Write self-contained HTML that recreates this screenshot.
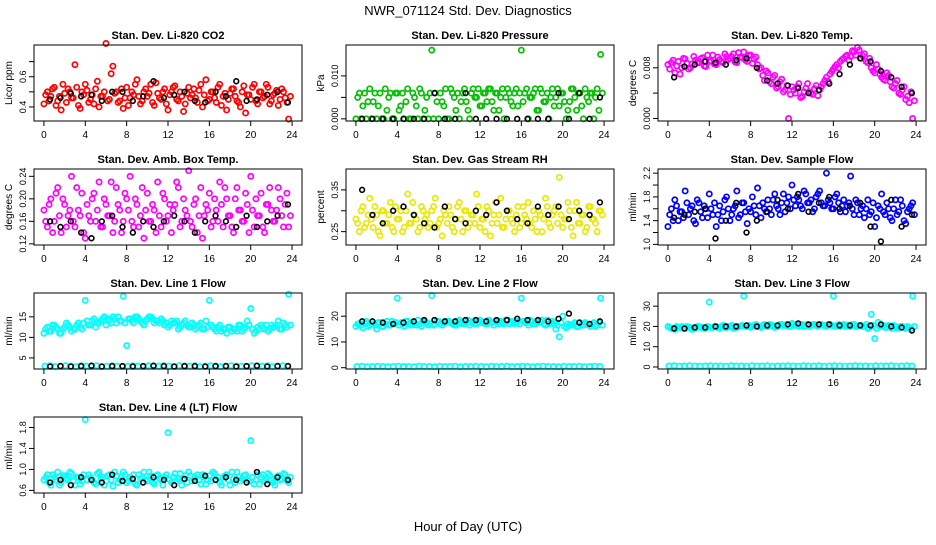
<!DOCTYPE html>
<html><head><meta charset="utf-8"><style>
html,body{margin:0;padding:0;background:#fff}
svg text{font-family:"Liberation Sans",Arial,sans-serif}
</style></head><body>
<svg id="chart" width="936" height="540" viewBox="0 0 936 540" xmlns="http://www.w3.org/2000/svg">
<text x="468" y="15" text-anchor="middle" font-size="13">NWR_071124  Std. Dev. Diagnostics</text>
<text x="468" y="531" text-anchor="middle" font-size="13">Hour of Day (UTC)</text>
</svg>
<script>
const co2Color=[0.42,0.5,0.47,0.53,0.44,0.38,0.49,0.52,0.46,0.68,0.41,0.5,0.55,0.43,0.48,0.52,0.40,0.47,0.82,0.45,0.67,0.5,0.44,0.39,0.53,0.46,0.48,0.58,0.42,0.5,0.47,0.55,0.41,0.49,0.45,0.52,0.38,0.5,0.54,0.44,0.47,0.42,0.53,0.48,0.46,0.51,0.40,0.58,0.45,0.5,0.43,0.55,0.47,0.38,0.49,0.52,0.44,0.40,0.54,0.48,0.45,0.55,0.42,0.5,0.47,0.53,0.44,0.49,0.41,0.52,0.46,0.32];
const co2ColorB=[0.48,0.44,0.52,0.41,0.47,0.55,0.43,0.5,0.46,0.53,0.39,0.48,0.51,0.45,0.42,0.57,0.47,0.5,0.44,0.62,0.49,0.43,0.52,0.46,0.41,0.5,0.55,0.47,0.44,0.52,0.49,0.43,0.56,0.46,0.5,0.42,0.48,0.53,0.45,0.5,0.37,0.49,0.46,0.52,0.43,0.55,0.48,0.44,0.5,0.46,0.53,0.41,0.49,0.45,0.52,0.47,0.43,0.5,0.36,0.48,0.53,0.44,0.5,0.46,0.55,0.42,0.48,0.51,0.45,0.5,0.43,0.47];
const co2Black=[0.45,0.46,0.49,0.47,0.48,0.44,0.5,0.5,0.44,0.47,0.57,0.46,0.48,0.5,0.44,0.43,0.5,0.47,0.57,0.44,0.45,0.48,0.5,0.43];
const presColor=[0,0.006,0.003,0,0.007,0.004,0,0.006,0,0.002,0.006,0,0.006,0.003,0,0.007,0,0.005,0,0.006,0.002,0,0.016,0.006,0,0.004,0.007,0,0.006,0.002,0,0.006,0.004,0,0.007,0.005,0.003,0.006,0.004,0.007,0.002,0.006,0.005,0,0.007,0.004,0.006,0.003,0.016,0.006,0,0.005,0.007,0.002,0.006,0.004,0,0.007,0.005,0.003,0.006,0,0.004,0.007,0.002,0.006,0,0.005,0.006,0,0.007,0.015];
const presColorB=[0.005,0,0.006,0.004,0,0.006,0.003,0,0.007,0.005,0,0.006,0.002,0.006,0.004,0,0.006,0.003,0.007,0,0.005,0.006,0,0.004,0.006,0.003,0,0.007,0.005,0.006,0.004,0.007,0.002,0.006,0.005,0.007,0.003,0.006,0.007,0.004,0.006,0.002,0.007,0.005,0.006,0.003,0.007,0.006,0.004,0.007,0.005,0.006,0.002,0.007,0.004,0.006,0.005,0.003,0.007,0.006,0.004,0.002,0.007,0.005,0.006,0.003,0.007,0.004,0.006,0.005,0.002,0.006];
const presBlack=[0,0,0,0,0,0,0,0.006,0,0,0.006,0,0,0,0,0,0,0,0,0.006,0,0.006,0,0.005];
const tempColor=[0.0085,0.0088,0.0072,0.0090,0.0080,0.0094,0.0078,0.0086,0.0092,0.0088,0.0096,0.0082,0.0090,0.0100,0.0085,0.0093,0.0088,0.0098,0.0095,0.0102,0.0088,0.0097,0.0105,0.0090,0.0100,0.0094,0.0085,0.0080,0.0060,0.0072,0.0055,0.0068,0.0050,0.0062,0.0045,0.0000,0.0050,0.0040,0.0055,0.0035,0.0048,0.0042,0.0038,0.0052,0.0045,0.0055,0.0065,0.0070,0.0078,0.0085,0.0090,0.0095,0.0100,0.0098,0.0105,0.0112,0.0095,0.0102,0.0088,0.0080,0.0072,0.0078,0.0065,0.0060,0.0068,0.0050,0.0055,0.0040,0.0045,0.0030,0.0025,0.0000];
const tempColorB=[0.0078,0.0092,0.0083,0.0070,0.0095,0.0087,0.0080,0.0098,0.0089,0.0094,0.0083,0.0100,0.0091,0.0086,0.0097,0.0090,0.0102,0.0093,0.0098,0.0089,0.0104,0.0096,0.0092,0.0100,0.0087,0.0097,0.0078,0.0068,0.0075,0.0058,0.0065,0.0048,0.0058,0.0042,0.0052,0.0038,0.0045,0.0050,0.0033,0.0042,0.0055,0.0040,0.0047,0.0036,0.0050,0.0060,0.0058,0.0074,0.0082,0.0080,0.0093,0.0098,0.0092,0.0107,0.0100,0.0108,0.0099,0.0090,0.0095,0.0075,0.0085,0.0070,0.0062,0.0072,0.0058,0.0048,0.0060,0.0038,0.0050,0.0035,0.0042,0.0028];
const tempBlack=[0.0065,0.0082,0.0085,0.0090,0.0088,0.0085,0.0092,0.0095,0.0080,0.0060,0.0055,0.0052,0.0048,0.0040,0.0045,0.0055,0.0070,0.0085,0.0095,0.0090,0.0075,0.0065,0.0050,0.0040];
const ambColor=[.18,.15,.20,.16,.22,.14,.19,.17,.24,.15,.18,.21,.13,.17,.20,.16,.23,.15,.19,.17,.14,.22,.18,.16,.20,.24,.15,.19,.17,.13,.21,.16,.18,.23,.15,.20,.17,.14,.19,.22,.16,.18,.25,.15,.20,.17,.13,.19,.21,.16,.18,.23,.15,.20,.17,.14,.22,.18,.16,.19,.24,.15,.17,.21,.14,.19,.18,.16,.22,.17,.19,.15];
const ambColorB=[.16,.19,.14,.21,.17,.20,.15,.18,.16,.22,.17,.14,.19,.16,.21,.18,.15,.20,.17,.23,.16,.19,.14,.21,.18,.16,.20,.15,.22,.18,.16,.19,.14,.17,.21,.16,.19,.18,.23,.15,.20,.17,.16,.19,.14,.22,.17,.18,.15,.20,.16,.19,.22,.17,.15,.20,.18,.16,.21,.14,.18,.20,.17,.15,.19,.22,.16,.18,.20,.15,.21,.17];
const ambBlack=[.16,.15,.16,.14,.13,.16,.17,.15,.14,.16,.15,.16,.17,.16,.14,.16,.17,.16,.15,.17,.15,.16,.17,.19];
const rhColor=[.28,.25,.31,.27,.33,.26,.29,.24,.30,.27,.32,.25,.28,.30,.26,.34,.27,.29,.25,.31,.28,.26,.30,.33,.27,.24,.29,.31,.26,.28,.32,.25,.30,.27,.29,.34,.26,.28,.31,.24,.29,.27,.33,.26,.30,.28,.25,.31,.27,.29,.32,.26,.28,.30,.25,.33,.27,.29,.31,.38,.26,.28,.30,.24,.32,.27,.29,.26,.31,.28,.25,.30];
const rhColorB=[.27,.30,.26,.29,.28,.31,.25,.30,.27,.29,.26,.31,.28,.25,.30,.27,.32,.28,.26,.30,.29,.27,.31,.26,.28,.30,.27,.29,.25,.31,.28,.30,.26,.29,.27,.31,.28,.25,.30,.27,.32,.29,.26,.28,.30,.27,.29,.26,.31,.28,.27,.30,.25,.29,.28,.31,.26,.30,.27,.29,.28,.32,.26,.30,.27,.29,.25,.31,.28,.27,.30,.29];
const rhBlack=[.35,.29,.27,.30,.31,.29,.27,.26,.31,.28,.27,.30,.29,.32,.30,.28,.27,.31,.29,.31,.28,.30,.29,.32];
const flowColor=[1.3,1.6,1.75,1.4,1.55,1.9,1.5,1.65,1.35,1.7,1.45,1.6,1.85,1.5,1.3,1.65,1.55,1.8,1.4,1.6,1.9,1.5,1.7,1.35,1.55,1.65,1.95,1.45,1.6,1.75,1.5,1.85,1.6,1.7,1.55,1.8,2.0,1.65,1.75,1.6,1.85,1.7,1.55,1.8,1.9,1.65,2.2,1.7,1.6,1.85,1.55,1.75,1.65,2.15,1.5,1.7,1.6,1.45,1.75,1.55,1.3,1.65,1.85,1.5,1.6,1.4,1.75,1.55,1.65,1.35,1.6,1.7];
const flowColorB=[1.5,1.4,1.65,1.55,1.45,1.7,1.6,1.4,1.75,1.55,1.65,1.45,1.6,1.7,1.5,1.4,1.75,1.6,1.5,1.65,1.45,1.7,1.55,1.6,1.8,1.5,1.65,1.7,1.55,1.6,1.75,1.65,1.5,1.85,1.7,1.6,1.75,1.8,1.65,1.9,1.7,1.75,1.6,1.85,1.7,1.65,1.75,1.6,1.8,1.7,1.65,1.55,1.7,1.6,1.75,1.5,1.65,1.6,1.5,1.7,1.45,1.6,1.55,1.7,1.45,1.6,1.5,1.75,1.4,1.55,1.65,1.5];
const flowBlack=[1.45,1.5,1.55,1.6,1.1,1.4,1.7,1.2,1.4,1.55,1.75,1.6,1.85,1.55,1.7,1.8,1.6,1.65,1.7,1.3,1.05,1.75,1.3,1.5];
const l1Color=[11,12.5,11.5,13,12,11,12.5,13,11.5,12,13.5,12,19,13,14,12.5,13.5,14.5,13,14,15,13.5,14,20,8,14.5,13.5,15,14,13,14.5,15,13.5,14,14.5,13,12.5,14,13.5,12,13,14,12.5,13.5,12,13,12,14,19,12.5,11.5,13,12,11,12.5,12,11.5,13,12,14,17,11,12.5,13,12,11.5,13,12.5,14,12,13,20.5];
const l1ColorB=[12,11.5,13,12.5,11,12,13.5,12.5,12,13,12.5,13.5,14,13,14.5,13.5,14,15,14.5,13.5,14.5,15,14,13.5,14.5,14,15,14.5,13.5,14,15,14.5,14,13.5,14,13.5,13,13.5,14,12.5,13.5,13,12.5,13,12.5,13.5,12,12.5,13,12,12.5,11.5,12,12.5,11.5,12,13,11.5,12.5,13,12,11.5,12,12.5,13,12,12.5,13,12,13.5,12.5,13];
const l1Low=[3.0,3.1,2.9,3.0,3.1,3.0,2.9,3.1,3.0,3.0,3.1,2.9,3.0,3.1,3.0,2.9,3.0,3.1,3.0,2.9,3.1,3.0,3.0,3.1,3.0,2.9,3.1,3.0,3.0,3.1,2.9,3.0,3.1,3.0,2.9,3.0,3.1,3.0,3.0,2.9,3.1,3.0,3.0,3.1,2.9,3.0,3.1,3.0];
const l1Black=[2.9,3.0,2.9,3.0,3.1,2.9,3.0,3.0,2.9,3.0,3.1,3.0,2.9,3.0,3.0,2.9,3.0,3.0,2.9,3.0,3.1,2.9,3.0,3.0];
const l2Color=[16,17,15.5,18,16.5,17,15,17.5,16,18,16.5,17,27,17.5,16,18,16.5,17,18.5,16,17.5,16.5,28,17,18,16.5,17.5,18,17,16.5,18.5,17,17.5,16.5,18,17,18.5,17.5,17,18,16.5,17.5,18,17,18.5,17.5,17,18,27,17.5,16.5,18,17,17.5,18.5,16.5,17,18,15,12,20,15.5,16.5,17,16,17.5,16.5,17,16,17.5,16.5,27];
const l2ColorB=[17,16.5,17.5,16,17,16.5,17.5,16,17,16.5,18,17.5,16.5,17,18,17,17.5,16.5,17,18,17.5,17,16.5,18,17,17.5,18,17.5,16.5,18,17.5,17,18.5,17.5,17,18,17.5,17,18.5,17.5,18,17,17.5,18.5,17,18,17.5,17,18,17.5,18.5,17,17.5,18,17,18.5,17.5,17,16.5,17.5,16,17,16.5,17.5,16,17,17.5,16.5,17,16,17.5,16.5];
const l2Low=[0.5,0.6,0.4,0.5,0.6,0.5,0.4,0.5,0.6,0.5,0.5,0.4,0.6,0.5,0.5,0.4,0.6,0.5,0.5,0.6,0.4,0.5,0.5,0.6,0.5,0.4,0.6,0.5,0.5,0.6,0.4,0.5,0.6,0.5,0.4,0.5,0.6,0.5,0.5,0.4,0.6,0.5,0.5,0.6,0.4,0.5,0.6,0.5];
const l2Black=[18,18,17.5,17,17.5,18,18.5,18.5,18,18,18.5,18.5,18,18.5,18.5,19,18.5,18.5,18,19,21,17.5,17,18];
const l3Color=[20,19,18.5,19.5,20,19,19.5,18.5,19,20,19.5,19,32,19.5,20,19,20.5,19.5,20,19,19.5,20,35,20,19.5,20.5,20,19.5,21,20,20.5,19.5,20,21,20.5,20,21.5,20.5,20,21,20.5,20,21,20.5,21,20.5,20,21,35,20.5,20,21,20.5,20,21,20,20.5,20,19,26,14,22,20,19.5,20.5,19,20,19.5,20,19,19.5,35];
const l3ColorB=[19.5,19,20,19.5,19,20,19.5,19,20,19.5,19,20,19.5,20,19.5,20,19.5,20,20.5,19.5,20,20.5,20,20.5,20,21,20,20.5,20,21,20.5,20,21,20.5,21,20,21,20.5,21,20,21,20.5,21,20,21,20.5,21,20.5,20,21,20.5,20,20.5,21,20,20.5,20,21,19.5,20.5,19,20,20.5,19.5,20,20.5,19,20,19.5,20,19,20];
const l3Low=[0.5,0.6,0.4,0.5,0.6,0.5,0.4,0.5,0.6,0.5,0.5,0.4,0.6,0.5,0.5,0.4,0.6,0.5,0.5,0.6,0.4,0.5,0.5,0.6,0.5,0.4,0.6,0.5,0.5,0.6,0.4,0.5,0.6,0.5,0.4,0.5,0.6,0.5,0.5,0.4,0.6,0.5,0.5,0.6,0.4,0.5,0.6,0.5];
const l3Black=[19,19,19.5,19.5,20,20,20,20.5,20,20.5,20.5,21,21.5,21,21,21,20.5,20.5,20.5,20.5,21,20,19.5,18];
const l4Color=[.8,.9,.7,.85,.95,.75,.88,.8,.92,.7,.85,.78,1.95,.9,.8,.72,.95,.85,.78,.9,.68,.88,.8,.95,.75,.85,.9,.7,.82,.95,.78,.88,.72,.9,.8,.85,1.7,.75,.92,.82,.7,.88,.95,.78,.85,.8,.9,.72,.88,.95,.8,.75,.85,.9,.7,.82,.95,.78,.88,.8,1.55,.72,.9,.85,.78,.92,.8,.7,.88,.82,.9,.75];
const l4ColorB=[.85,.75,.9,.8,.7,.88,.82,.95,.78,.85,.72,.9,.8,.85,.75,.92,.82,.7,.88,.8,.95,.75,.85,.9,.78,.82,.72,.9,.85,.8,.95,.75,.88,.82,.7,.9,.8,.85,.78,.92,.8,.75,.88,.82,.9,.72,.85,.8,.78,.92,.85,.7,.88,.8,.95,.75,.85,.82,.9,.78,.85,.8,.72,.9,.82,.88,.75,.85,.8,.92,.78,.85];
const l4Black=[.75,.8,.7,.85,.8,.75,.9,.78,.82,.75,.85,.8,.7,.82,.78,.88,.8,.85,.8,.75,.95,.72,.85,.8];
const xTicks=[0,4,8,12,16,20,24];

const NS='http://www.w3.org/2000/svg';
const svg=document.getElementById('chart');
function mk(tag,attrs,parent){const e=document.createElementNS(NS,tag);for(const k in attrs)e.setAttribute(k,attrs[k]);(parent||svg).appendChild(e);return e;}

const panels=[
 {name:'co2',title:'Stan. Dev. Li-820 CO2',ylab:'Licor ppm',col:0,row:0,ymin:0.307,ymax:0.81,ticks:[0.4,0.5,0.6,0.7],labels:['0.4','','0.6',''],color:'#ff0000',series:[[co2Color,0],[co2ColorB,0.17]],black:co2Black},
 {name:'pressure',title:'Stan. Dev. Li-820 Pressure',ylab:'kPa',col:1,row:0,ymin:-0.0005,ymax:0.0172,ticks:[0,0.005,0.010],labels:['0.000','','0.010'],color:'#00c000',series:[[presColor,0],[presColorB,0.17]],black:presBlack},
 {name:'temp',title:'Stan. Dev. Li-820 Temp.',ylab:'degrees C',col:2,row:0,ymin:-0.0004,ymax:0.0116,ticks:[0,0.004,0.008],labels:['0.000','','0.008'],color:'#ff00ff',series:[[tempColor,0],[tempColorB,0.17]],black:tempBlack},
 {name:'amb-box',title:'Stan. Dev. Amb. Box Temp.',ylab:'degrees C',col:0,row:1,ymin:0.118,ymax:0.253,ticks:[0.12,0.16,0.20,0.24],labels:['0.12','0.16','0.20','0.24'],color:'#ff00ff',series:[[ambColor,0],[ambColorB,0.17]],black:ambBlack},
 {name:'rh',title:'Stan. Dev. Gas Stream RH',ylab:'percent',col:1,row:1,ymin:0.218,ymax:0.40,ticks:[0.25,0.30,0.35],labels:['0.25','','0.35'],color:'#e8e800',series:[[rhColor,0],[rhColorB,0.17]],black:rhBlack},
 {name:'sample-flow',title:'Stan. Dev. Sample Flow',ylab:'ml/min',col:2,row:1,ymin:0.99,ymax:2.27,ticks:[1.0,1.2,1.4,1.6,1.8,2.0,2.2],labels:['1.0','','1.4','','1.8','','2.2'],color:'#0000ff',series:[[flowColor,0],[flowColorB,0.17]],black:flowBlack},
 {name:'line1',title:'Stan. Dev. Line 1 Flow',ylab:'ml/min',col:0,row:2,ymin:2.3,ymax:20.8,ticks:[5,10,15],labels:['5','10','15'],color:'#00ffff',series:[[l1Color,0],[l1ColorB,0.17],[l1Low,0.1]],black:l1Black},
 {name:'line2',title:'Stan. Dev. Line 2 Flow',ylab:'ml/min',col:1,row:2,ymin:-0.5,ymax:29,ticks:[0,10,20],labels:['0','10','20'],color:'#00ffff',series:[[l2Color,0],[l2ColorB,0.17],[l2Low,0.1]],black:l2Black},
 {name:'line3',title:'Stan. Dev. Line 3 Flow',ylab:'ml/min',col:2,row:2,ymin:-1,ymax:36.5,ticks:[0,10,20,30],labels:['0','10','20','30'],color:'#00ffff',series:[[l3Color,0],[l3ColorB,0.17],[l3Low,0.1]],black:l3Black},
 {name:'line4',title:'Stan. Dev. Line 4 (LT) Flow',ylab:'ml/min',col:0,row:3,ymin:0.55,ymax:2.0,ticks:[0.6,1.0,1.4,1.8],labels:['0.6','1.0','1.4','1.8'],color:'#00ffff',series:[[l4Color,0],[l4ColorB,0.17]],black:l4Black}
];
const colX=[34,346,658], rowY=[45,169,293,417], W=268, H=76;

panels.forEach(p=>{
 const L=colX[p.col], T=rowY[p.row];
 const g=mk('g',{});
 
 
 const xs=h=>L+W*(h+0.96)/25.92;
 const ys=v=>T+H-H*(v-p.ymin)/(p.ymax-p.ymin);
 const t=mk('text',{x:L+W/2,y:T-6,'text-anchor':'middle','font-size':'11','font-weight':'bold'},g);
 t.textContent=p.title;
 
 
 const yl=mk('text',{x:0,y:0,'text-anchor':'middle','font-size':'10',transform:`translate(${L-22},${T+H/2}) rotate(-90)`},g);
 yl.textContent=p.ylab;
 
 
 p.series.forEach(([s,off])=>{
   const step=24/s.length;
   s.forEach((v,i)=>{
     const c=mk('circle',{cx:xs(i*step+off),cy:ys(v),r:2.6,fill:'none',stroke:p.color,'stroke-width':1.7},g);
     
     
   });
 });
 p.black.forEach((v,i)=>{
   const c=mk('circle',{cx:xs(i+0.6),cy:ys(v),r:2.4,fill:'none',stroke:'#000','stroke-width':1.6},g);
   
   
 });
 const box=mk('rect',{x:L,y:T,width:W,height:H,fill:'none',stroke:'#000','stroke-width':1},g);
 
 
 xTicks.forEach(h=>{
   const x=xs(h);
   mk('line',{x1:x,x2:x,y1:T+H,y2:T+H+5,stroke:'#000'},g);
   const tl=mk('text',{x:x,y:T+H+17,'text-anchor':'middle','font-size':'10'},g);
   tl.textContent=h;
   
   
 });
 p.ticks.forEach((v,i)=>{
   const y=ys(v);
   mk('line',{x1:L-5,x2:L,y1:y,y2:y,stroke:'#000'},g);
   if(p.labels[i]){
     const tl=mk('text',{x:0,y:0,'text-anchor':'middle','font-size':'9',transform:`translate(${L-8},${y}) rotate(-90)`},g);
     tl.textContent=p.labels[i];
     
     
   }
 });
});
</script>
</body></html>
